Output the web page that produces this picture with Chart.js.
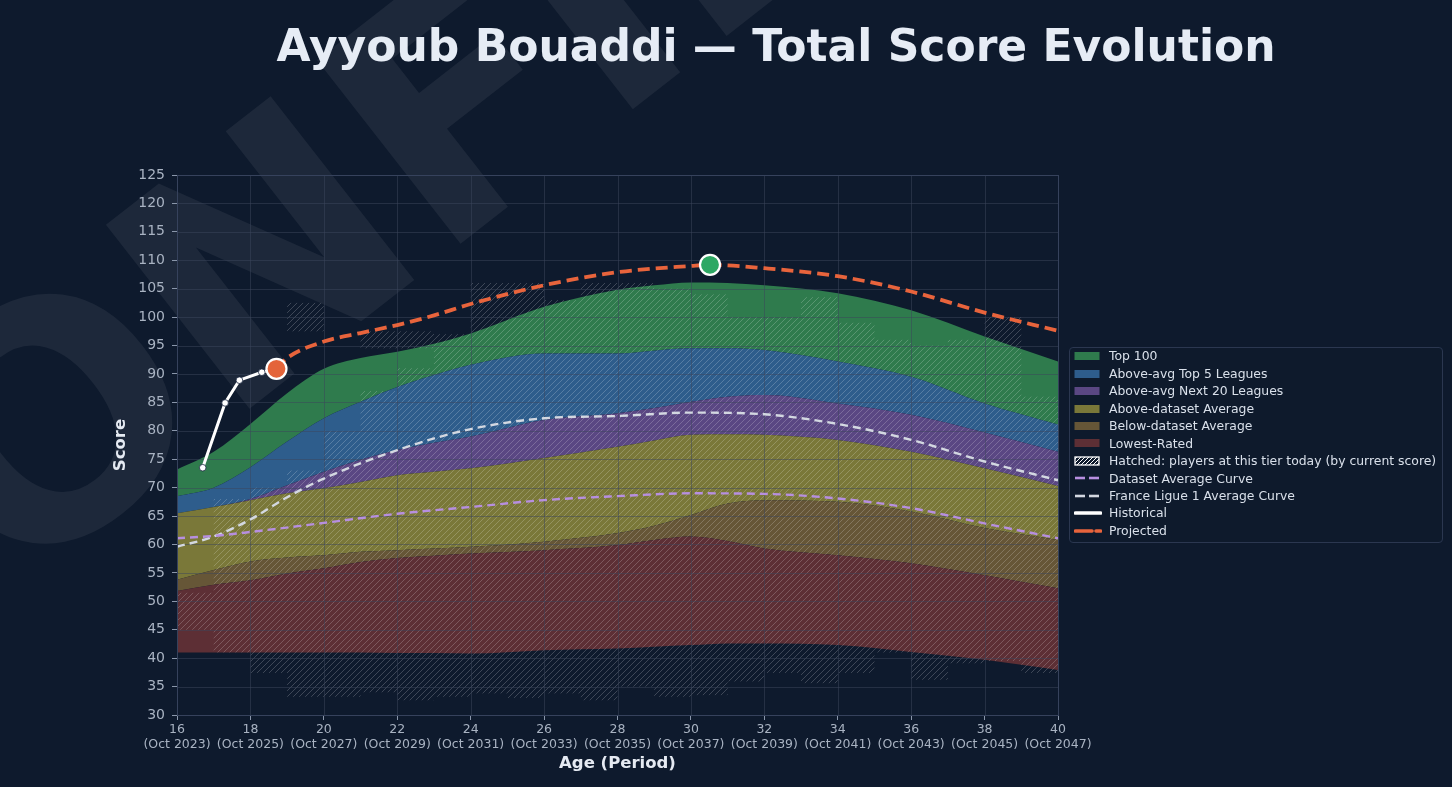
<!DOCTYPE html>
<html>
<head>
<meta charset="utf-8">
<script src="https://cdn.jsdelivr.net/npm/chart.js@4.4.1/dist/chart.umd.min.js"></script>
<style>
html,body{margin:0;padding:0;background:#0e1a2d;overflow:hidden;}
#wrap{position:relative;width:1452px;height:787px;overflow:hidden;background:#0e1a2d;font-family:'DejaVu Sans',sans-serif;}
#c{position:absolute;left:0;top:0;}
#title{position:absolute;left:776px;top:20px;transform:translateX(-50%);white-space:nowrap;font-weight:bold;font-size:44px;line-height:52px;color:#e6ecf5;}
#legend{position:absolute;left:1069px;top:347px;width:374px;height:196px;box-sizing:border-box;border:1px solid #2b3750;border-radius:4px;background:rgba(14,26,45,0.92);}
.row{position:absolute;left:0;height:17.5px;width:370px;}
.row svg{position:absolute;left:4px;top:3.75px;}
.row span{position:absolute;left:39px;top:0;line-height:17.5px;font-size:12.4px;color:#d9e0ea;white-space:nowrap;}
</style>
</head>
<body>
<div id="wrap">
<canvas id="c" width="1452" height="787"></canvas>
<div id="title">Ayyoub Bouaddi — Total Score Evolution</div>
<div id="legend"></div>
</div>
<script>
// ---------- DATA ----------
const bandAges     = [16,17,18,19,20,21,22,23,24,26,28,29,30,31,32,34,36,38,40];
const lowestBottom = [41.0,41.0,41.0,41.0,41.0,41.0,40.9,40.9,40.8,41.4,41.7,42.0,42.3,42.6,42.6,42.3,41.1,39.7,37.9];
const lowestTop    = [51.8,52.9,53.7,54.9,55.8,56.9,57.6,58.0,58.4,59.0,59.9,60.8,61.4,60.6,59.3,58.1,56.7,54.6,52.3];
const belowAvgTop  = [53.8,55.5,57.0,57.7,58.1,58.7,59.0,59.3,59.6,60.5,62.0,63.3,65.2,67.2,67.8,67.5,65.8,62.9,60.8];
const aboveAvgTop  = [65.5,66.6,67.8,69.0,69.9,71.0,72.2,72.8,73.4,75.2,77.2,78.3,79.3,79.4,79.3,78.4,76.3,73.4,70.3];
const next20Top    = [65.5,66.6,68.0,70.4,72.8,74.9,76.6,77.9,79.0,81.9,83.1,84.0,85.1,86.0,86.3,84.8,82.8,79.7,76.3];
const top5Top      = [68.5,70.0,73.6,78.1,82.2,85.1,87.7,89.8,91.6,93.6,93.6,94.1,94.5,94.5,94.2,92.2,89.5,84.8,81.1];
const top100Top    = [73.2,76.3,81.2,86.6,90.9,92.8,93.9,95.3,97.1,101.8,104.8,105.6,106.1,106.0,105.6,104.2,101.2,96.6,92.2];

const bandNames  = ['Lowest-Rated','Below-dataset Average','Above-dataset Average','Above-avg Next 20 Leagues','Above-avg Top 5 Leagues','Top 100'];
const bandColors = ['#5d2f35','#665637','#7a7839','#5a4783','#2e5d8c','#2f7b4d'];

const avgAges   = [16,17,18,20,22,24,26,28,30,32,34,36,38,40];
const avgValues = [61.1,61.5,62.2,63.8,65.4,66.6,67.8,68.5,69.0,68.9,68.1,66.4,63.7,61.1];

const l1Ages   = [16,17,18,19,20,22,24,26,28,30,32,34,36,38,40];
const l1Values = [59.6,61.4,64.4,68.3,71.6,76.6,80.3,82.2,82.6,83.2,82.9,81.2,78.4,74.6,71.3];

const histAges   = [16.70,17.31,17.70,18.31,18.71];
const histValues = [73.5,84.9,88.9,90.3,90.9];

const projAges   = [18.71,19,20,21,22,23,24,26,28,30,30.52,32,34,36,38,40];
const projValues = [90.9,92.8,95.7,97.2,98.6,100.3,102.3,105.6,107.9,109.0,109.2,108.6,107.2,104.5,100.8,97.6];

const currentAge = [18.71], currentScore = [90.9];
const peakAge = [30.52], peakScore = [109.2];

// hatched cells: players at this tier today (1-year wide cells)
const hatchAge  = [16,17,18,19,19,20,21,21,22,22,23,24,25,26,27,28,29,30,31,32,33,34,35,36,37,38,39];
const hatchLow  = [45,41,37.4,33.2,97.5,33.2,34,94.5,32.6,94.5,33.2,33.8,33,33.8,32.6,35,33.2,33.5,35.9,37.4,35.6,37.4,41,36.2,39.1,39.5,37.4];
const hatchHigh = [51.5,68,70,73,102.5,80,87,97.5,91,97.5,97,106,106,103,106,106,105,104,100,100,103.5,99,96,95,96,100,86];

const xTickAges    = [16,18,20,22,24,26,28,30,32,34,36,38,40];
const xTickPeriods = ['(Oct 2023)','(Oct 2025)','(Oct 2027)','(Oct 2029)','(Oct 2031)','(Oct 2033)','(Oct 2035)','(Oct 2037)','(Oct 2039)','(Oct 2041)','(Oct 2043)','(Oct 2045)','(Oct 2047)'];

// ---------- LEGEND (HTML) ----------
const legendItems = [
  {t:'Top 100', k:'patch', c:bandColors[5]},
  {t:'Above-avg Top 5 Leagues', k:'patch', c:bandColors[4]},
  {t:'Above-avg Next 20 Leagues', k:'patch', c:bandColors[3]},
  {t:'Above-dataset Average', k:'patch', c:bandColors[2]},
  {t:'Below-dataset Average', k:'patch', c:bandColors[1]},
  {t:'Lowest-Rated', k:'patch', c:bandColors[0]},
  {t:'Hatched: players at this tier today (by current score)', k:'hatch'},
  {t:'Dataset Average Curve', k:'dash', c:'#b78fe0'},
  {t:'France Ligue 1 Average Curve', k:'dash', c:'#d3d8e1'},
  {t:'Historical', k:'solid', c:'#ffffff'},
  {t:'Projected', k:'proj', c:'#e8643c'}
];
function iconSvg(it){
  let inner='';
  if(it.k==='patch') inner=`<rect x="0.5" y="1" width="25" height="8" fill="${it.c}"/>`;
  else if(it.k==='hatch') inner=`<defs><pattern id="hp" width="4" height="4" patternUnits="userSpaceOnUse"><path d="M0,4 L4,0 M-1,1 L1,-1 M3,5 L5,3" stroke="#fff" stroke-width="1"/></pattern></defs><rect x="1" y="1" width="24" height="8" fill="url(#hp)" stroke="#fff" stroke-width="1.3"/>`;
  else if(it.k==='dash') inner=`<line x1="1" y1="5" x2="11" y2="5" stroke="${it.c}" stroke-width="2.6"/><line x1="15" y1="5" x2="25" y2="5" stroke="${it.c}" stroke-width="2.6"/>`;
  else if(it.k==='solid') inner=`<line x1="1.5" y1="5" x2="26.5" y2="5" stroke="${it.c}" stroke-width="3.6" stroke-linecap="round"/>`;
  else inner=`<line x1="1.5" y1="5" x2="18" y2="5" stroke="${it.c}" stroke-width="3.6" stroke-linecap="round"/><line x1="22" y1="5" x2="26.5" y2="5" stroke="${it.c}" stroke-width="3.6" stroke-linecap="round"/>`;
  return `<svg width="28" height="10" viewBox="0 0 28 10">${inner}</svg>`;
}
const lg = document.getElementById('legend');
legendItems.forEach((it,i)=>{
  const r=document.createElement('div'); r.className='row'; r.style.top=(17.45*i-0.6)+'px';
  r.innerHTML=iconSvg(it)+`<span>${it.t}</span>`; lg.appendChild(r);
});

// ---------- CHART ----------
const canvas = document.getElementById('c');
const ctx0 = canvas.getContext('2d');
const tile = document.createElement('canvas'); tile.width=6; tile.height=6;
const tg = tile.getContext('2d');
tg.strokeStyle='rgba(255,255,255,0.2)'; tg.lineWidth=1;
tg.beginPath(); tg.moveTo(0,6); tg.lineTo(6,0); tg.moveTo(-1,1); tg.lineTo(1,-1); tg.moveTo(5,7); tg.lineTo(7,5); tg.stroke();
const hatchPattern = ctx0.createPattern(tile,'repeat');

const pts = (xs, ys) => xs.map((x,i)=>({x, y:ys[i]}));
const bounds = [lowestBottom, lowestTop, belowAvgTop, aboveAvgTop, next20Top, top5Top, top100Top];
const datasets = bounds.map((arr,i)=>({
  label: i===0 ? 'base' : bandNames[i-1],
  data: pts(bandAges, arr),
  borderColor:'rgba(0,0,0,0)', borderWidth:0, pointRadius:0,
  backgroundColor: i===0 ? 'rgba(0,0,0,0)' : bandColors[i-1],
  fill: i===0 ? false : '-1',
  cubicInterpolationMode:'monotone', order:10
}));
datasets.push({label:'Dataset Average Curve', data:pts(avgAges,avgValues), borderColor:'#b78fe0', borderWidth:2.4, borderDash:[8,5], pointRadius:0, fill:false, cubicInterpolationMode:'monotone', order:2});
datasets.push({label:'France Ligue 1 Average Curve', data:pts(l1Ages,l1Values), borderColor:'#d3d8e1', borderWidth:2.4, borderDash:[8,5], pointRadius:0, fill:false, cubicInterpolationMode:'monotone', order:2});
datasets.push({label:'Projected', data:pts(projAges,projValues), borderColor:'#e8643c', borderWidth:3.8, borderDash:[12,6], pointRadius:0, fill:false, cubicInterpolationMode:'monotone', order:1});
datasets.push({label:'Historical', data:pts(histAges,histValues), borderColor:'#ffffff', borderWidth:3, pointRadius:3.3, pointBackgroundColor:'#ffffff', pointBorderColor:'#1a2740', pointBorderWidth:0.8, fill:false, tension:0, order:1});
datasets.push({label:'current', data:pts(currentAge,currentScore), showLine:false, pointRadius:10, pointBackgroundColor:'#e4643a', pointBorderColor:'#ffffff', pointBorderWidth:2.2, order:0});
datasets.push({label:'peak', data:pts(peakAge,peakScore), showLine:false, pointRadius:10, pointBackgroundColor:'#2ea864', pointBorderColor:'#ffffff', pointBorderWidth:2.2, order:0});

const watermark = {
  id:'watermark',
  beforeDraw(chart){
    const c = chart.ctx; c.save();
    c.font = 'bold 320px "DejaVu Sans"';
    c.fillStyle = 'rgba(255,255,255,0.062)';
    const wC = c.measureText('C').width, wO = c.measureText('O').width;
    c.translate(68, 445); c.rotate(-38*Math.PI/180);
    c.textBaseline='middle';
    c.fillText('CONFIDENTIAL', -(wC + wO/2), 0);
    c.restore();
  }
};
const hatchGrid = {
  id:'hatchGrid',
  afterDatasetDraw(chart, args){
    if(args.index !== 0) return;
    const c = chart.ctx, a = chart.chartArea, x = chart.scales.x, y = chart.scales.y;
    c.save();
    c.beginPath(); c.rect(a.left, a.top, a.right-a.left, a.bottom-a.top); c.clip();
    c.fillStyle = hatchPattern;
    for(let i=0;i<hatchAge.length;i++){
      const x0=x.getPixelForValue(hatchAge[i]), x1=x.getPixelForValue(hatchAge[i]+1);
      const y0=y.getPixelForValue(hatchHigh[i]), y1=y.getPixelForValue(hatchLow[i]);
      c.fillRect(x0,y0,x1-x0,y1-y0);
    }
    c.strokeStyle='rgba(60,70,92,0.5)'; c.lineWidth=1; c.beginPath();
    x.ticks.forEach(t=>{const p=Math.round(x.getPixelForValue(t.value))+0.5; c.moveTo(p,a.top); c.lineTo(p,a.bottom);});
    y.ticks.forEach(t=>{const p=Math.round(y.getPixelForValue(t.value))+0.5; c.moveTo(a.left,p); c.lineTo(a.right,p);});
    c.stroke();
    c.restore();
  },
  afterDraw(chart){
    const c = chart.ctx, a = chart.chartArea;
    c.save(); c.strokeStyle='#36425c'; c.lineWidth=1;
    c.strokeRect(Math.round(a.left)+0.5, Math.round(a.top)+0.5, Math.round(a.right-a.left), Math.round(a.bottom-a.top));
    c.restore();
  }
};

Chart.defaults.font.family = "'DejaVu Sans', sans-serif";
new Chart(canvas, {
  type:'line',
  data:{datasets},
  plugins:[watermark, hatchGrid],
  options:{
    responsive:false, animation:false, devicePixelRatio:1,
    layout:{padding:{left:107, top:175, right:394, bottom:9}},
    plugins:{legend:{display:false}, tooltip:{enabled:false}, title:{display:false}},
    scales:{
      x:{type:'linear', min:16, max:40,
        afterFit(s){ s.height = 63; },
        grid:{display:true, drawOnChartArea:false, drawTicks:true, tickLength:5, tickColor:'#8a96aa'},
        border:{display:false},
        ticks:{stepSize:2, color:'#a9b3c2', font:{size:12.5}, padding:2, maxRotation:0, autoSkip:false,
          callback(v){ const i=xTickAges.indexOf(v); return i>=0 ? [String(v), xTickPeriods[i]] : ''; }},
        title:{display:true, text:'Age (Period)', color:'#e5eaf2', font:{size:16.5, weight:'bold'}, padding:{top:4,bottom:4}}
      },
      y:{type:'linear', min:30, max:125,
        afterFit(s){ s.width = 70; },
        grid:{display:true, drawOnChartArea:false, drawTicks:true, tickLength:5, tickColor:'#8a96aa'},
        border:{display:false},
        ticks:{stepSize:5, color:'#a9b3c2', font:{size:14}, padding:7},
        title:{display:true, text:'Score', color:'#e5eaf2', font:{size:16.5, weight:'bold'}, padding:{top:4,bottom:4}}
      }
    }
  }
});
</script>
</body>
</html>
